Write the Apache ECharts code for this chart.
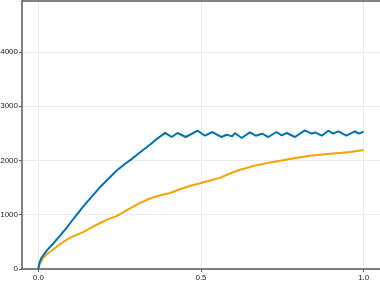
<!DOCTYPE html>
<html>
<head>
<meta charset="utf-8">
<script src="https://cdn.jsdelivr.net/npm/echarts@6/dist/echarts.min.js"></script>
<style>html,body{margin:0;padding:0;background:#fff;}#c{width:380px;height:282px;}</style>
</head>
<body>
<div id="c"></div>
<script>
var xTicks = [0, 0.5, 1.0];
var yTicks = [0, 1000, 2000, 3000, 4000];

var blueX = [0, 0.004, 0.010, 0.026, 0.046, 0.065, 0.087, 0.110, 0.138, 0.165, 0.190, 0.215, 0.241, 0.265, 0.290, 0.315, 0.343, 0.365, 0.390,
  0.410, 0.428, 0.453, 0.490, 0.512, 0.535, 0.563, 0.579, 0.596, 0.604, 0.625, 0.650, 0.668, 0.688, 0.707, 0.732, 0.748, 0.763, 0.789,
  0.819, 0.840, 0.850, 0.871, 0.891, 0.906, 0.922, 0.947, 0.973, 0.985, 1.0];
var blueY = [0, 120, 210, 340, 470, 600, 760, 940, 1150, 1340, 1510, 1660, 1815, 1930, 2040, 2160, 2291, 2400, 2510,
  2433, 2507, 2433, 2549, 2457, 2525, 2433, 2475, 2444, 2507, 2415, 2518, 2457, 2494, 2433, 2525, 2463, 2507, 2433,
  2555, 2494, 2518, 2457, 2549, 2494, 2536, 2457, 2536, 2494, 2531];

var orangeX = [0, 0.004, 0.015, 0.030, 0.046, 0.065, 0.087, 0.110, 0.138, 0.165, 0.190, 0.215, 0.241, 0.265, 0.282, 0.310, 0.343, 0.375,
  0.405, 0.435, 0.465, 0.497, 0.528, 0.558, 0.589, 0.615, 0.640, 0.665, 0.690, 0.712, 0.743, 0.773, 0.805, 0.835, 0.865, 0.896, 0.927,
  0.958, 0.980, 1.0];
var orangeY = [0, 90, 200, 290, 360, 450, 540, 610, 680, 770, 848, 920, 975, 1060, 1118, 1210, 1300, 1360,
  1400, 1470, 1530, 1580, 1630, 1680, 1760, 1820, 1862, 1905, 1935, 1965, 1995, 2027, 2060, 2088, 2105, 2125, 2140,
  2155, 2175, 2195];

function pairs(xs, ys) { return xs.map(function (x, i) { return [x, ys[i]]; }); }

var chart = echarts.init(document.getElementById('c'), null, {renderer: 'canvas'});
chart.setOption({
  animation: false,
  grid: {left: 22, top: 1, width: 358, height: 268, containLabel: false, outerBoundsMode: 'none'},
  xAxis: [{
    type: 'value', min: -0.05, max: 1.05,
    axisLine: {show: true, onZero: false, lineStyle: {color: '#5a5a5a', width: 1.5}},
    axisTick: {show: true, length: 3, customValues: xTicks, lineStyle: {color: '#5a5a5a'}},
    axisLabel: {customValues: xTicks, color: '#222', fontSize: 8, fontFamily: 'Liberation Sans', margin: 5,
      formatter: function (v) { return v.toFixed(1); }},
    splitLine: {show: true, lineStyle: {color: '#ebebeb', width: 1}}
  }, {
    type: 'value', position: 'top', min: -0.05, max: 1.05,
    axisLine: {show: true, onZero: false, lineStyle: {color: '#5a5a5a', width: 1.5}},
    axisTick: {show: false}, axisLabel: {show: false}, splitLine: {show: false}
  }],
  yAxis: {
    type: 'value', min: 0, max: 4940,
    axisLine: {show: true, onZero: false, lineStyle: {color: '#5a5a5a', width: 1.5}},
    axisTick: {show: true, length: 3, customValues: yTicks, lineStyle: {color: '#5a5a5a'}},
    axisLabel: {customValues: yTicks, color: '#222', fontSize: 8, fontFamily: 'Liberation Sans', margin: 4,
      formatter: function (v) { return String(v); }},
    splitLine: {show: true, lineStyle: {color: '#ebebeb', width: 1}}
  },
  series: [{
    type: 'line', data: pairs(orangeX, orangeY), showSymbol: false, symbol: 'none',
    lineStyle: {color: '#F5A300', width: 2}, itemStyle: {color: '#F5A300'}
  }, {
    type: 'line', data: pairs(blueX, blueY), showSymbol: false, symbol: 'none',
    lineStyle: {color: '#0072B2', width: 2}, itemStyle: {color: '#0072B2'}
  }]
});
</script>
</body>
</html>
